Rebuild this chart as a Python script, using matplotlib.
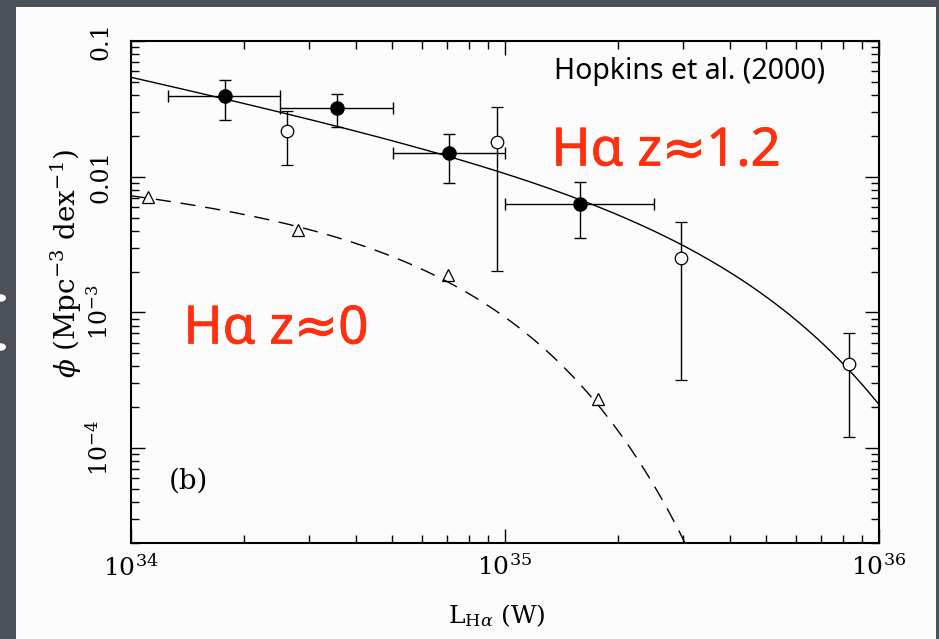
import numpy as np
import matplotlib
matplotlib.use('Agg')
import matplotlib.pyplot as plt
import matplotlib.patheffects as pe
from matplotlib.patches import Rectangle, Circle
from matplotlib.ticker import FixedLocator, FixedFormatter, LogLocator, NullFormatter

plt.rcParams['font.family'] = 'DejaVu Serif'
plt.rcParams['mathtext.fontset'] = 'dejavuserif'

# z~1.2 binned luminosity function (filled circles)
lum_z12 = [1.78e34, 3.55e34, 7.08e34, 1.585e35]
lum_z12_lo = [1.258e34, 2.50e34, 5.01e34, 1.0e35]
lum_z12_hi = [2.50e34, 5.01e34, 1.0e35, 2.506e35]
phi_z12 = [0.0390, 0.0319, 0.0149, 0.0063]
phi_z12_lo = [0.0262, 0.0234, 0.00893, 0.00354]
phi_z12_hi = [0.0512, 0.0408, 0.0207, 0.0092]

# second z~1.2 sample (open circles)
lum_open = [2.62e34, 9.53e34, 2.95e35, 8.30e35]
phi_open = [0.0216, 0.01794, 0.00252, 4.16e-4]
phi_open_lo = [0.01222, 0.002005, 3.19e-4, 1.21e-4]
phi_open_hi = [0.0307, 0.0329, 0.00467, 7.05e-4]

# local Halpha sample (triangles)
lum_z0 = [1.11e34, 2.80e34, 7.03e34, 1.77e35]
phi_z0 = [7.05e-3, 4.07e-3, 1.89e-3, 2.30e-4]

# Schechter fits: log10 norm, slope (alpha+1), log10 L*
fit_z12 = [-2.185, -0.60, 35.55]
fit_z0 = [-2.213, -0.20, 34.75]


def schechter(logl, pars):
    norm, slope, lstar = pars
    return 10 ** (norm + slope * (logl - lstar) - 10 ** (logl - lstar) / np.log(10))


fig = plt.figure(figsize=(9.39, 6.39), dpi=100)
fig.patch.set_facecolor('#4c5058')
fig.patches.append(Rectangle((16 / 939, 0), 920 / 939, 632 / 639, transform=fig.transFigure,
                             facecolor='#fcfcfc', edgecolor='none', zorder=-5))
for yb in (298, 347):
    fig.patches.append(Circle((0.5 / 939, 1 - yb / 639), 5.5 / 939, transform=fig.transFigure,
                              facecolor='white', edgecolor='none', zorder=-4))

ax = fig.add_axes([131 / 939, 1 - 543 / 639, 748 / 939, 502 / 639])
ax.set_facecolor('#fcfcfc')
ax.set_xscale('log')
ax.set_yscale('log')
ax.set_xlim(1e34, 1e36)
ax.set_ylim(2e-5, 0.1)

logl = np.linspace(34, 36, 400)
ax.plot(10 ** logl, schechter(logl, fit_z12), color='black', lw=1.0)
ax.plot(10 ** logl, schechter(logl, fit_z0), color='black', lw=1.0, ls=(0, (11, 7)))

x = np.array(lum_z12)
y = np.array(phi_z12)
ax.errorbar(x, y,
            xerr=[x - np.array(lum_z12_lo), np.array(lum_z12_hi) - x],
            yerr=[y - np.array(phi_z12_lo), np.array(phi_z12_hi) - y],
            fmt='o', color='black', ms=9.5, elinewidth=1.0, capsize=4, capthick=1.0)

x = np.array(lum_open)
y = np.array(phi_open)
ax.errorbar(x, y, yerr=[y - np.array(phi_open_lo), np.array(phi_open_hi) - y],
            fmt='o', color='black', mfc='#fcfcfc', mec='black', mew=0.9, ms=9,
            elinewidth=1.0, capsize=4, capthick=1.0)

ax.plot(lum_z0, phi_z0, '^', mfc='none', mec='black', mew=0.9, ms=8)

# axes styling
for sp in ax.spines.values():
    sp.set_linewidth(1.5)
ax.tick_params(which='both', direction='in', top=True, right=True, width=1.0)
ax.tick_params(which='major', length=10)
ax.tick_params(which='minor', length=6)
ax.xaxis.set_major_locator(FixedLocator([1e34, 1e35, 1e36]))
ax.xaxis.set_major_formatter(FixedFormatter([r'$10^{34}$', r'$10^{35}$', r'$10^{36}$']))
ax.xaxis.set_minor_locator(LogLocator(base=10, subs=np.arange(2, 10)))
ax.xaxis.set_minor_formatter(NullFormatter())
ax.yaxis.set_major_locator(FixedLocator([1e-4, 1e-3, 1e-2, 1e-1]))
ax.yaxis.set_major_formatter(FixedFormatter([r'$10^{-4}$', r'$10^{-3}$', '0.01', '0.1']))
ax.yaxis.set_minor_locator(LogLocator(base=10, subs=np.arange(2, 10)))
ax.yaxis.set_minor_formatter(NullFormatter())
ax.tick_params(axis='x', which='major', labelsize=18, pad=8)
ax.tick_params(axis='y', which='major', labelsize=17, pad=13, labelrotation=90)
for lab in ax.get_yticklabels():
    lab.set_va('center')

fig.text(66 / 939, 1 - 264 / 639, r'$\phi$ (Mpc$^{-3}$ dex$^{-1}$)', rotation=90,
         ha='center', va='center', fontsize=20)
fig.text(497 / 939, 1 - 616 / 639, r'L$_{\mathrm{H}\alpha}$ (W)', ha='center', va='center',
         fontsize=18)

fig.text(188 / 939, 1 - 481 / 639, '(b)', ha='center', va='center', fontsize=20)
sans = ['Noto Sans', 'DejaVu Sans']
fig.text(690 / 939, 1 - 72 / 639, 'Hopkins et al. (2000)', ha='center', va='center',
         fontsize=20.5, family=sans)
red = '#ff2f0f'
thick = [pe.withStroke(linewidth=0.5, foreground=red)]
fig.text(666 / 939, 1 - 152 / 639, 'H\u03b1 z\u22481.2', ha='center', va='center',
         fontsize=38, color=red, family=sans, path_effects=thick)
fig.text(276 / 939, 1 - 330 / 639, 'H\u03b1 z\u22480', ha='center', va='center',
         fontsize=38, color=red, family=sans, path_effects=thick)

fig.savefig('out.png', dpi=100, facecolor=fig.get_facecolor())
